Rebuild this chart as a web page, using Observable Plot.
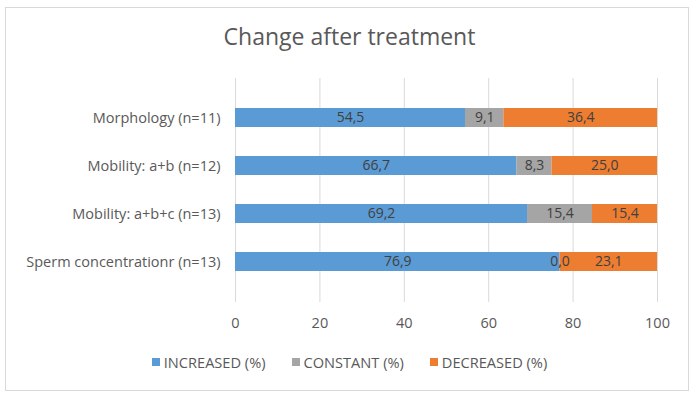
<!DOCTYPE html>
<html>
<head>
<meta charset="utf-8">
<script src="https://cdn.jsdelivr.net/npm/d3@7"></script>
<script src="https://cdn.jsdelivr.net/npm/@observablehq/plot@0.6"></script>
<style>
  html, body { margin: 0; padding: 0; background: #fff; }
  #wrap { position: relative; width: 699px; height: 400px; font-family: "Open Sans", sans-serif; }
  #frame { position: absolute; left: 5px; top: 7px; width: 682px; height: 382px; border: 1px solid #d9d9d9; }
  #title { position: absolute; left: 0; width: 699px; top: 21px; text-align: center; font-size: 23px; line-height: 30px; color: #595959; }
  #chart { position: absolute; left: 0; top: 70px; }
  #legend { position: absolute; left: 0; width: 699px; top: 352px; display: flex; justify-content: center; gap: 26px; font-size: 14.6px; line-height: 20px; color: #595959; }
  #legend span.item { display: flex; align-items: center; }
  #legend span.sw { display: inline-block; width: 8px; height: 8px; margin-right: 4px; }
</style>
</head>
<body>
<div id="wrap">
  <div id="frame"></div>
  <div id="title">Change after treatment</div>
  <div id="chart"></div>
  <div id="legend"></div>
</div>
<script>
const categories = ["Morphology (n=11)", "Mobility: a+b (n=12)", "Mobility: a+b+c (n=13)", "Sperm concentrationr (n=13)"];
const series = ["INCREASED (%)", "CONSTANT (%)", "DECREASED (%)"];
const increased = [54.5, 66.7, 69.2, 76.9];
const constant = [9.1, 8.3, 15.4, 0.0];
const decreased = [36.4, 25.0, 15.4, 23.1];
const colors = ["#5B9BD5", "#A5A5A5", "#ED7D31"];
const xTicks = [0, 20, 40, 60, 80, 100];

const seriesValues = [increased, constant, decreased];
const data = [];
categories.forEach((c, i) => {
  series.forEach((s, j) => {
    data.push({category: c, type: s, value: seriesValues[j][i]});
  });
});
const fmt = v => d3.format(".1f")(v).replace(".", ",");

const plot = Plot.plot({
  width: 699,
  height: 270,
  marginLeft: 235,
  marginRight: 42,
  marginTop: 8,
  marginBottom: 38,
  style: {fontFamily: "Open Sans, sans-serif", fontSize: "14.5px", color: "#595959", background: "transparent"},
  x: {domain: [0, 100], ticks: xTicks, tickSize: 0, tickPadding: 15, label: null},
  y: {domain: categories, padding: 0.6, tickSize: 0, tickPadding: 15, label: null},
  color: {domain: series, range: colors},
  marks: [
    Plot.gridX(xTicks, {stroke: "#d9d9d9", strokeOpacity: 1}),
    Plot.barX(data, Plot.stackX({x: "value", y: "category", fill: "type", order: series})),
    Plot.text(data, Plot.stackX({x: "value", y: "category", z: "type", order: series, text: d => fmt(d.value), fill: "#404040", fontSize: 14}))
  ]
});
document.getElementById("chart").appendChild(plot);

const legend = document.getElementById("legend");
series.forEach((s, i) => {
  const item = document.createElement("span");
  item.className = "item";
  const sw = document.createElement("span");
  sw.className = "sw";
  sw.style.background = colors[i];
  item.appendChild(sw);
  item.appendChild(document.createTextNode(s));
  legend.appendChild(item);
});
</script>
</body>
</html>
